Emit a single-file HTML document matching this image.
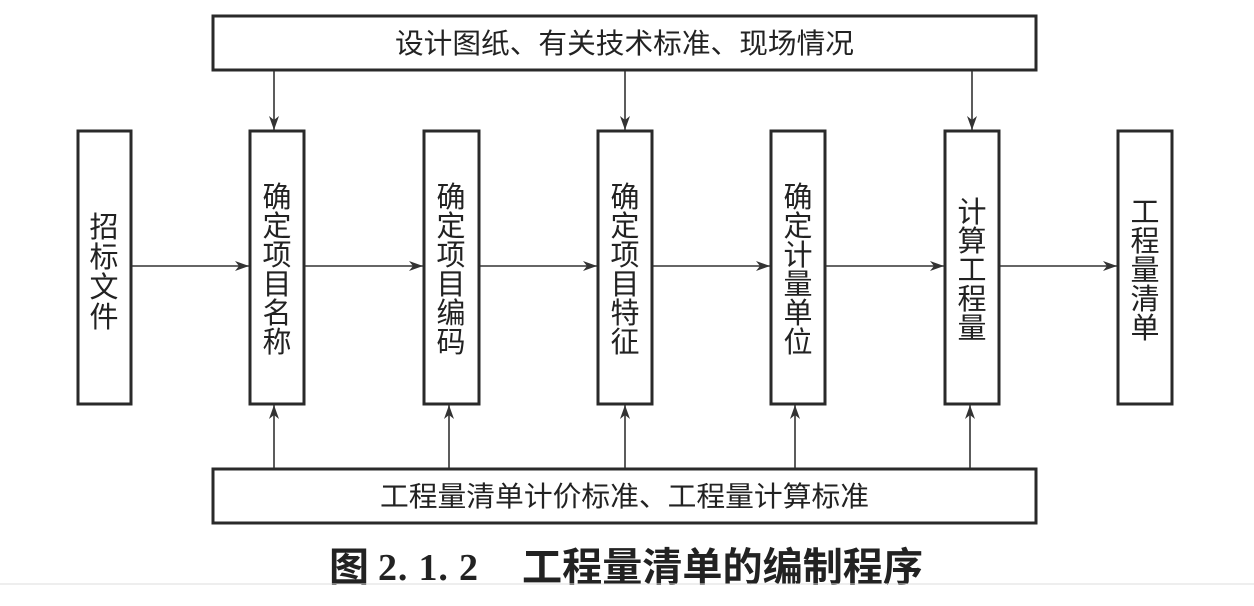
<!DOCTYPE html>
<html><head><meta charset="utf-8"><style>
html,body{margin:0;padding:0;background:#fff;}
svg{display:block;}
text{font-family:"Liberation Sans","Noto Sans CJK SC",sans-serif;fill:#222;}
</style></head><body>
<svg width="1254" height="606" viewBox="0 0 1254 606" xmlns="http://www.w3.org/2000/svg">
<defs>
<marker id="a" viewBox="0 0 14 10" refX="14" refY="5" markerWidth="14" markerHeight="10" markerUnits="userSpaceOnUse" orient="auto">
<path d="M0,0 L14,5 L0,10 L4,5 Z" fill="#333"/>
</marker>
</defs>
<g fill="none" stroke="#2a2a2a" stroke-width="3">
<rect x="213" y="16" width="823" height="54"/>
<rect x="213" y="469" width="823" height="54"/>
<rect x="78" y="131" width="53" height="273"/>
<rect x="250" y="131" width="54" height="273"/>
<rect x="424" y="131" width="55" height="273"/>
<rect x="598" y="131" width="54" height="273"/>
<rect x="771" y="131" width="54" height="273"/>
<rect x="945" y="131" width="54" height="273"/>
<rect x="1118" y="131" width="54" height="273"/>
</g>
<g stroke="#333" stroke-width="1.6" marker-end="url(#a)">
<line x1="132" y1="266" x2="249" y2="266"/>
<line x1="305" y1="266" x2="423" y2="266"/>
<line x1="480" y1="266" x2="597" y2="266"/>
<line x1="653" y1="266" x2="770" y2="266"/>
<line x1="826" y1="266" x2="944" y2="266"/>
<line x1="1000" y1="266" x2="1117" y2="266"/>
<line x1="274" y1="71" x2="274" y2="130"/>
<line x1="625" y1="71" x2="625" y2="130"/>
<line x1="972" y1="71" x2="972" y2="130"/>
<line x1="274" y1="468" x2="274" y2="405"/>
<line x1="449" y1="468" x2="449" y2="405"/>
<line x1="625" y1="468" x2="625" y2="405"/>
<line x1="795" y1="468" x2="795" y2="405"/>
<line x1="970" y1="468" x2="970" y2="405"/>
</g>
<text x="395" y="53" font-size="28" textLength="459" lengthAdjust="spacingAndGlyphs">设计图纸、有关技术标准、现场情况</text>
<text x="380" y="506" font-size="28" textLength="489" lengthAdjust="spacingAndGlyphs">工程量清单计价标准、工程量计算标准</text>
<g font-size="29" text-anchor="middle">
<text x="104" y="237">招</text><text x="104" y="267">标</text><text x="104" y="297">文</text><text x="104" y="327">件</text>
<text x="277" y="207">确</text><text x="277" y="236">定</text><text x="277" y="265">项</text><text x="277" y="294">目</text><text x="277" y="323">名</text><text x="277" y="352">称</text>
<text x="451" y="207">确</text><text x="451" y="236">定</text><text x="451" y="265">项</text><text x="451" y="294">目</text><text x="451" y="323">编</text><text x="451" y="352">码</text>
<text x="625" y="207">确</text><text x="625" y="236">定</text><text x="625" y="265">项</text><text x="625" y="294">目</text><text x="625" y="323">特</text><text x="625" y="352">征</text>
<text x="798" y="207">确</text><text x="798" y="236">定</text><text x="798" y="265">计</text><text x="798" y="294">量</text><text x="798" y="323">单</text><text x="798" y="352">位</text>
<text x="972" y="222">计</text><text x="972" y="251">算</text><text x="972" y="280">工</text><text x="972" y="309">程</text><text x="972" y="338">量</text>
<text x="1145" y="222">工</text><text x="1145" y="251">程</text><text x="1145" y="280">量</text><text x="1145" y="309">清</text><text x="1145" y="338">单</text>
</g>
<text x="329" y="581" font-size="40" font-weight="bold">图</text>
<text x="378" y="580" font-size="38" font-weight="bold" textLength="100" lengthAdjust="spacing" style="font-family:'Liberation Serif',serif">2. 1. 2</text>
<text x="522" y="581" font-size="40" font-weight="bold" textLength="401" lengthAdjust="spacingAndGlyphs">工程量清单的编制程序</text>
<line x1="0" y1="584" x2="1254" y2="584" stroke="#ddd" stroke-width="1"/>
</svg>
</body></html>
